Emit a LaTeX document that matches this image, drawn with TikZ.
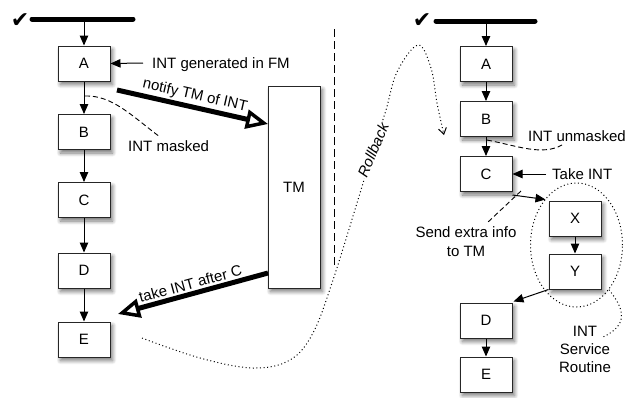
\documentclass[tikz,border=0pt]{standalone}
\usepackage{fontspec}
\setmainfont{Liberation Sans}
\newfontfamily\symfont{DejaVu Sans}
\usetikzlibrary{arrows.meta,shadows.blur,shapes.geometric}
\begin{document}
\begin{tikzpicture}[x=1pt,y=-1pt,
  font=\fontsize{15}{18}\selectfont,
  box/.style={draw=black!85, line width=1pt, fill=white, minimum width=52pt, minimum height=35pt, inner sep=0pt,
    blur shadow={shadow xshift=2.5pt, shadow yshift=-3.5pt, shadow blur steps=8, shadow blur radius=4pt, shadow opacity=55}},
  flow/.style={line width=1pt, -{Triangle[length=10pt,width=8.5pt]}},
  bigarrow/.style={line width=5pt, -{Triangle[open,length=22pt,width=19pt,line width=3.5pt]}},
  txt/.style={inner sep=2pt, text depth=0pt},
  bar/.style={line width=5pt, line cap=round},
  chk/.style={font=\symfont\fontsize{22}{22}\selectfont, inner sep=0pt},
  dashcurve/.style={line width=0.9pt, dash pattern=on 5pt off 3pt},
  dotcurve/.style={line width=1pt, dash pattern=on 1pt off 2.6pt},
]
\useasboundingbox (0,0) rectangle (638,397);

% ---------- left flow ----------
\node[chk] (lchk) at (20,21) {✔};
\coordinate (lbarL) at (32,19);
\coordinate (lbarR) at (133,19);
\coordinate (lbarM) at (84,19);
\draw[bar] (lbarL) -- (lbarR);

\node[box] (lA) at (84,63.5) {A};
\node[box] (lB) at (84,132) {B};
\node[box] (lC) at (84,200) {C};
\node[box] (lD) at (84,270.5) {D};
\node[box] (lE) at (84,339.5) {E};
\node[box, minimum height=202pt] (TM) at (294,187) {TM};

\draw[flow] (lbarM) -- (lA);
\draw[flow] (lA) -- (lB);
\draw[flow] (lB) -- (lC);
\draw[flow] (lC) -- (lD);
\draw[flow] (lD) -- (lE);

\node[txt, anchor=west] (tgen) at (150,63) {INT generated in FM};
\draw[flow] ([xshift=-7pt]tgen.west) -- (lA.east);

\coordinate (mask0) at (85,96);
\coordinate (mask1) at (160,137);
\draw[dashcurve] (mask0) .. controls (112,95) and (132,116) .. (mask1);
\node[txt, anchor=west] (tmask) at (126,146) {INT masked};

\coordinate (nstart) at (117,90);
\coordinate (nend) at (268,124);
\draw[bigarrow] (nstart) -- node[midway, sloped, above=0pt, inner sep=2pt] (tnotify) {notify TM of INT} (nend);

\coordinate (tstart) at (268,273);
\coordinate (tend) at (118,314);
\draw[bigarrow] (tstart) -- node[midway, sloped, above=0pt, inner sep=2pt] (ttake) {take INT after C} (tend);

% separator
\coordinate (sep0) at (334,29);
\coordinate (sep1) at (334,265);
\draw[line width=1pt, dash pattern=on 8pt off 4pt] (sep0) -- (sep1);

% rollback
\coordinate (rb0) at (142,338);
\coordinate (rb1) at (444,135);
\draw[dotcurve, -{Straight Barb[length=6pt,width=8pt,line width=1pt]}]
  plot[smooth, tension=0.6] coordinates {(rb0) (200,358) (253,368) (290,360) (313,333) (333,280) (357,203) (373,150) (386,110) (397,72) (418,45) (431,68) (437,103) (rb1)};
\node[txt, fill=white, rotate=67, inner sep=1pt, font=\fontsize{15}{18}\selectfont\itshape] (trb) at (373,150) {Rollback};

% ---------- right flow ----------
\node[chk] (rchk) at (422,21) {✔};
\coordinate (rbarL) at (436,21);
\coordinate (rbarR) at (535,21);
\coordinate (rbarM) at (486,21);
\draw[bar] (rbarL) -- (rbarR);

\node[box] (rA) at (486,64) {A};
\node[box] (rB) at (486,119) {B};
\node[box] (rC) at (486,174) {C};
\node[box] (rX) at (575,218.5) {X};
\node[box] (rY) at (575,271.5) {Y};
\node[box] (rD) at (486,320.5) {D};
\node[box] (rE) at (486,374.5) {E};

\draw[flow] (rbarM) -- (rA);
\draw[flow] (rA) -- (rB);
\draw[flow] (rB) -- (rC);
\draw[flow] ([yshift=-3pt]rC.south east) -- ([xshift=-3pt,yshift=1pt]rX.north west);
\draw[flow] (rX) -- (rY);
\draw[flow] (rY.south west) -- ([xshift=1pt,yshift=1pt]rD.north east);
\draw[flow] (rD) -- (rE);

\node[txt, anchor=west] (tunm) at (526,136) {INT unmasked};
\coordinate (um0) at (487,140);
\coordinate (um1) at (562,145);
\draw[dashcurve] (um0) .. controls (518,146) and (542,156) .. (um1);

\node[txt, anchor=west] (ttk) at (550,174) {Take INT};
\draw[flow] ([xshift=-4pt]ttk.west) -- (rC.east);

\node[txt, align=center, font=\fontsize{15}{19}\selectfont] (tsend) at (466,242) {Send extra info\\to TM};
\coordinate (se0) at (521,191);
\coordinate (se1) at (487,223);
\draw[dashcurve] (se0) -- (se1);

\node[ellipse, draw, dotcurve, minimum width=92pt, minimum height=124pt, inner sep=0pt] (isr) at (576.5,245) {};
\node[txt, align=center, font=\fontsize{15}{18}\selectfont] (tisr) at (585,349) {INT\\Service\\Routine};
\coordinate (is1) at (603,337);
\draw[dotcurve] (isr.-54) .. controls (627,312) and (626,326) .. (is1);
\end{tikzpicture}
\end{document}
